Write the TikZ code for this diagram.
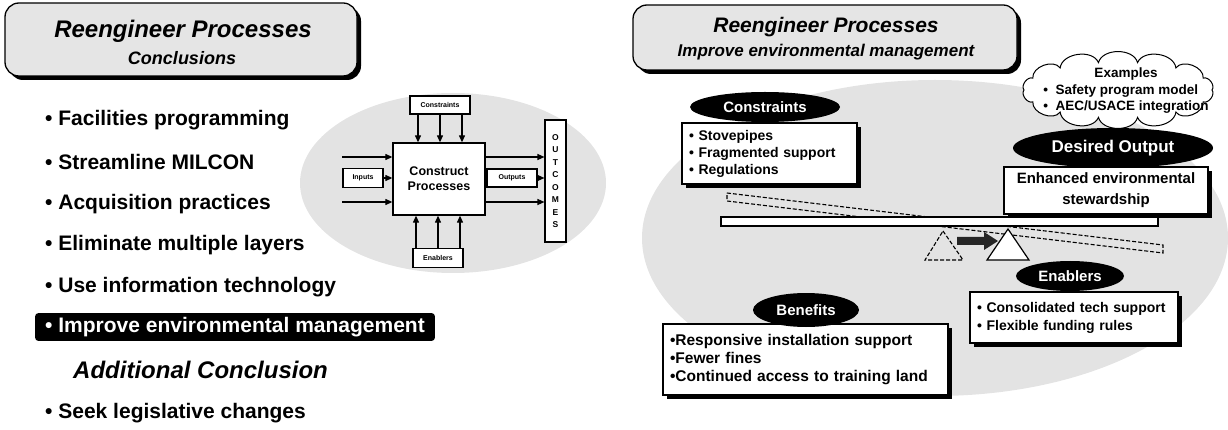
\documentclass[tikz,border=0pt]{standalone}
\usepackage{fontspec}
\setmainfont{Liberation Sans}
\usetikzlibrary{shapes.geometric,shadows,arrows.meta,calc}
\newcommand\fsz[2]{\fontsize{#1}{#2}\selectfont\bfseries}
\begin{document}
\begin{tikzpicture}[x=1pt,y=-1pt,
  graybg/.style={fill=black!11},
  shadowed/.style={drop shadow={shadow xshift=4pt,shadow yshift=-4pt,fill=black,opacity=1}},
  wbox/.style={draw,line width=1.2pt,fill=white,shadowed,inner sep=0pt},
  pill/.style={ellipse,fill=black,text=white,inner sep=0pt},
  arr/.style={line width=1.2pt,-{Triangle[length=7pt,width=6pt]}},
  sbox/.style={draw,line width=1.1pt,fill=white,inner sep=0pt,font=\fsz{7}{8}},
  tbox/.style={draw,line width=1.3pt,fill=black!10,rounded corners=14pt,shadowed},
  bul/.style={anchor=west,inner xsep=0pt,font=\fsz{21}{25}}]
\useasboundingbox (0,0) rectangle (1228,430);

% ---------------- left panel ----------------
\node[tbox,minimum width=352pt,minimum height=73pt] (ltitle) at (181,39.5) {};
\node[font=\fsz{24}{28}\itshape] (ltitle1) at (183,31) {Reengineer Processes};
\node[font=\fsz{18}{22}\itshape] (ltitle2) at (182,58) {Conclusions};

\node[bul] (b1) at (45,120) {• Facilities programming};
\node[bul] (b2) at (45,162) {• Streamline MILCON};
\node[bul] (b3) at (45,204) {• Acquisition practices};
\node[bul] (b4) at (45,245) {• Eliminate multiple layers};
\node[bul] (b5) at (45,287) {• Use information technology};
\node[anchor=west,fill=black,text=white,rounded corners=3pt,inner xsep=10pt,inner ysep=4pt,font=\fsz{21}{25}] (b6) at (35,327) {• Improve environmental management};
\node[anchor=west,inner xsep=0pt,font=\fsz{24}{28}\itshape] (addc) at (73,370) {Additional Conclusion};
\node[bul] (b7) at (45,413) {• Seek legislative changes};

% left diagram
\fill[graybg] (453,183) ellipse [x radius=153pt, y radius=90pt];
\node[draw,line width=1.3pt,fill=white,minimum width=92pt,minimum height=72pt,inner sep=0pt,font=\fsz{12.5}{15},align=center] (cp) at (439,179) {Construct\\Processes};
\node[sbox,minimum width=60pt,minimum height=18pt] (cons) at (440,105) {Constraints};
\node[sbox,minimum width=40pt,minimum height=19pt] (inp) at (363,178) {Inputs};
\node[sbox,minimum width=50pt,minimum height=18pt] (outp) at (512,178) {Outputs};
\node[sbox,minimum width=21pt,minimum height=122pt,font=\fsz{8.5}{12.5},align=center] (outc) at (555.5,181) {O\\U\\T\\C\\O\\M\\E\\S};
\node[sbox,minimum width=50pt,minimum height=19pt] (enab) at (438,258) {Enablers};
\foreach \d in {-22,0,22} {
  \draw[arr] ([xshift=\d pt]cons.south) -- ([xshift=\d pt]cons.south |- cp.north);
  \draw[arr] ([xshift=\d pt]enab.north) -- ([xshift=\d pt]enab.north |- cp.south);
}
\coordinate (in1) at (342,157);
\coordinate (in3) at (342,202);
\draw[arr] (in1) -- (in1 -| cp.west);
\draw[arr] (inp.east) -- (inp.east -| cp.west);
\draw[arr] (in3) -- (in3 -| cp.west);
\draw[arr] (in1 -| cp.east) -- (in1 -| outc.west);
\draw[arr] (outp.east) -- (outp.east -| outc.west);
\draw[arr] (in3 -| cp.east) -- (in3 -| outc.west);

% ---------------- right panel ----------------
\fill[graybg] (935,238) ellipse [x radius=293pt, y radius=158pt];
\node[tbox,minimum width=384pt,minimum height=65pt] (rtitle) at (825,37.5) {};
\node[font=\fsz{21}{25}\itshape] (rtitle1) at (826,27) {Reengineer Processes};
\node[font=\fsz{17}{20}\itshape] (rtitle2) at (826,52) {Improve environmental management};

% cloud
\draw[line width=1pt,fill=white] (1212,90)
  \foreach \a in {25,52,78,102,128,155,180,205,232,258,282,308,335,360} {
    to[bend left=75] ({1118+94*cos(\a)},{90+28*sin(\a)}) } -- cycle;
\node[font=\fsz{13.5}{16.5},inner sep=0pt] (extext) at (1126,91)
 {\begin{tabular}{@{}l@{}}\multicolumn{1}{@{}c@{}}{Examples}\\• \ Safety program model\\• \ AEC/USACE integration\end{tabular}};

% seesaw
\draw[line width=1.1pt,dash pattern=on 4pt off 2pt] (727,193) -- (1163,245) -- (1163,253) -- (727,201) -- cycle;
\draw[line width=1.2pt,fill=white] (721,217) rectangle (1158,226);
\draw[line width=1.1pt,dash pattern=on 4pt off 2pt] (943,231) -- (963,260) -- (925,260) -- cycle;
\draw[line width=1.2pt,fill=white] (1008,229) -- (1029,260) -- (987,260) -- cycle;
\fill[black!85] (957,237) -- (984,237) -- (984,232) -- (998,241) -- (984,250) -- (984,245) -- (957,245) -- cycle;

\node[wbox,minimum width=175pt,minimum height=61pt,text width=161pt,inner xsep=7pt,align=left,font=\fsz{14}{17}] (consbox) at (769.5,153.5) {• Stovepipes\\• Fragmented support\\• Regulations};
\node[pill,minimum width=150pt,minimum height=30pt,font=\fsz{15}{18}] (consp) at (765,107) {Constraints};

\node[wbox,minimum width=204pt,minimum height=47pt,align=center,font=\fsz{15}{21}] (desbox) at (1106,190.5) {Enhanced environmental\\stewardship};
\node[pill,minimum width=200pt,minimum height=40pt,font=\fsz{17}{20}] (desp) at (1113,148) {Desired Output};

\node[wbox,minimum width=208pt,minimum height=51pt,text width=194pt,inner xsep=7pt,align=left,font=\fsz{14}{18}] (enbox) at (1074,317.5) {• Consolidated tech support\\• Flexible funding rules};
\node[pill,minimum width=108pt,minimum height=30pt,font=\fsz{15}{18}] (enp) at (1070,276) {Enablers};

\node[wbox,minimum width=285pt,minimum height=71pt,text width=271pt,inner xsep=7pt,align=left,font=\fsz{15.5}{18}] (benbox) at (805.5,359.5) {•Responsive installation support\\•Fewer fines\\•Continued access to training land};
\node[pill,minimum width=106pt,minimum height=34pt,font=\fsz{15}{18}] (benp) at (806,310) {Benefits};
\end{tikzpicture}
\end{document}
